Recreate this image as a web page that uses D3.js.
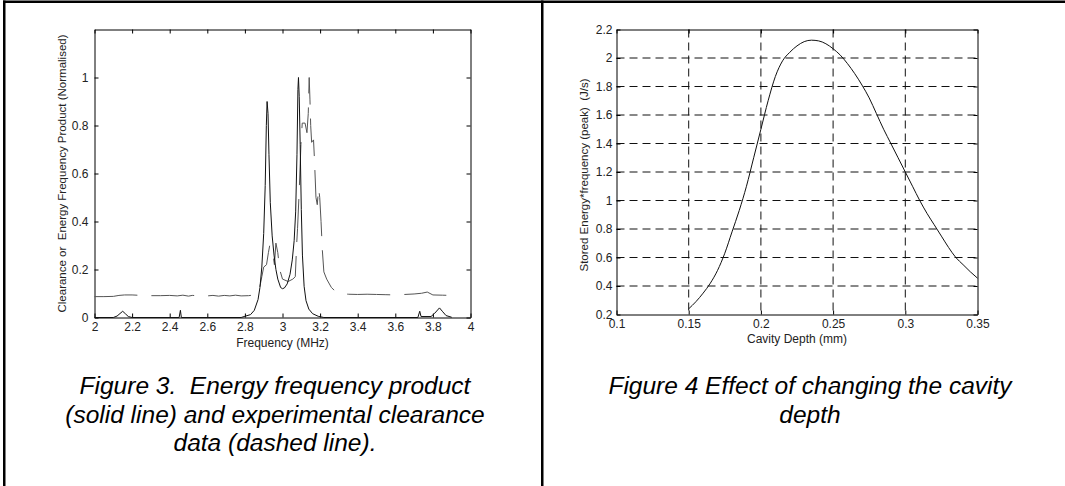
<!DOCTYPE html>
<html>
<head>
<meta charset="utf-8">
<script src="https://cdn.jsdelivr.net/npm/d3@7"></script>
<style>
  body { margin: 0; background: #fff; }
  svg { display: block; font-family: "Liberation Sans", Arial, sans-serif; }
  .tick text { font-family: "Liberation Sans", Arial, sans-serif; font-size: 12px; fill: #222; }
  .caption { font-size: 24.5px; font-style: italic; fill: #000; white-space: pre; }
</style>
</head>
<body>
<svg id="page" width="1065" height="486"></svg>
<script>
(function() {

  // Figure 3 - energy frequency product (solid)
  var energyFreq = [2.00, 2.10, 2.12, 2.15, 2.165, 2.18, 2.20, 2.45, 2.457, 2.462, 2.78, 2.80, 2.83, 2.85, 2.87,
    2.88, 2.89, 2.90, 2.908, 2.914, 2.918, 2.923, 2.928, 2.935, 2.945, 2.955, 2.965, 2.975, 2.99, 3.00,
    3.01, 3.025, 3.04, 3.052, 3.062, 3.07, 3.077, 3.082, 3.085, 3.089, 3.094, 3.10, 3.106, 3.115, 3.125,
    3.14, 3.16, 3.19, 3.22, 3.72, 3.73, 3.737, 3.79, 3.81, 3.835, 3.85, 3.87, 3.90]
  var energyVal = [0, 0, 0.006, 0.026, 0.015, 0.004, 0, 0, 0.03, 0, 0, 0.005, 0.012, 0.03, 0.075,
    0.125, 0.21, 0.35, 0.55, 0.8, 0.9, 0.85, 0.68, 0.48, 0.34, 0.26, 0.2, 0.16, 0.125, 0.12,
    0.123, 0.14, 0.18, 0.24, 0.32, 0.44, 0.68, 0.95, 1.0, 0.92, 0.72, 0.45, 0.26, 0.13, 0.07,
    0.035, 0.016, 0.005, 0, 0, 0.026, 0.004, 0.004, 0.018, 0.04, 0.026, 0.008, 0.001]

  // Figure 3 - experimental clearance (dashed)
  var clearFreq = [2.00, 2.05, 2.10, 2.13, 2.16, 2.20, 2.25, 2.30, 2.35, 2.40, 2.44, 2.47, 2.50, 2.52, 2.55,
    2.60, 2.63, 2.66, 2.69, 2.72, 2.75, 2.78, 2.82, 2.86, 2.88, 2.89, 2.90, 2.915, 2.925, 2.932,
    2.94, 2.95, 2.957, 2.965, 2.975, 2.985, 3.00, 3.03, 3.055, 3.068, 3.075, 3.08, 3.09, 3.098, 3.105,
    3.12, 3.13, 3.137, 3.142, 3.146, 3.15, 3.155, 3.165, 3.17, 3.178, 3.185, 3.192, 3.198, 3.205, 3.212,
    3.22, 3.235, 3.26, 3.28, 3.31, 3.35, 3.40, 3.45, 3.50, 3.55, 3.60, 3.65, 3.70, 3.74, 3.77,
    3.80, 3.85, 3.90, 3.94]
  var clearVal = [0.087, 0.087, 0.088, 0.092, 0.094, 0.094, 0.092, 0.091, 0.091, 0.092, 0.090, 0.093, 0.089, 0.092, 0.091,
    0.090, 0.092, 0.089, 0.092, 0.090, 0.093, 0.090, 0.091, 0.095, 0.13, 0.17, 0.21, 0.22, 0.27, 0.30,
    0.28, 0.26, 0.22, 0.31, 0.27, 0.2, 0.16, 0.15, 0.16, 0.17, 0.30, 0.37, 0.55, 0.72, 0.81,
    0.81, 0.77, 0.85, 1.0, 0.91, 0.80, 0.73, 0.74, 0.66, 0.50, 0.47, 0.54, 0.50, 0.40, 0.28,
    0.19, 0.16, 0.125, 0.11, 0.10, 0.097, 0.096, 0.097, 0.096, 0.095, 0.094, 0.096, 0.098, 0.101, 0.106,
    0.094, 0.093, 0.092, 0.092]

  var freqTicks = [2, 2.2, 2.4, 2.6, 2.8, 3, 3.2, 3.4, 3.6, 3.8, 4]
  var normTicks = [0, 0.2, 0.4, 0.6, 0.8, 1]

  // Figure 4 - stored energy * frequency vs cavity depth
  var depth = [0.15, 0.155, 0.16, 0.165, 0.17, 0.175, 0.18, 0.185, 0.19, 0.195, 0.2, 0.205, 0.21, 0.215,
    0.22, 0.225, 0.23, 0.235, 0.24, 0.245, 0.25, 0.255, 0.26, 0.265, 0.27, 0.275, 0.28, 0.285,
    0.29, 0.295, 0.3, 0.305, 0.31, 0.315, 0.32, 0.325, 0.33, 0.335, 0.34, 0.345, 0.35]
  var storedEnergy = [0.24, 0.29, 0.35, 0.42, 0.51, 0.63, 0.78, 0.93, 1.1, 1.3, 1.5, 1.7, 1.87, 1.98,
    2.04, 2.085, 2.115, 2.125, 2.12, 2.1, 2.065, 2.02, 1.96, 1.89, 1.81, 1.72, 1.61, 1.5,
    1.4, 1.3, 1.2, 1.1, 1.0, 0.91, 0.83, 0.75, 0.67, 0.6, 0.55, 0.5, 0.455]

  var depthTicks = [0.1, 0.15, 0.2, 0.25, 0.3, 0.35]
  var energyTicks = [0.2, 0.4, 0.6, 0.8, 1, 1.2, 1.4, 1.6, 1.8, 2, 2.2]

  var svg = d3.select("#page")

  // table borders
  svg.append("rect").attr("x", 3).attr("y", 0.5).attr("width", 1062).attr("height", 2.5).attr("fill", "#000")
  svg.append("rect").attr("x", 3).attr("y", 0.5).attr("width", 2.5).attr("height", 486).attr("fill", "#000")
  svg.append("rect").attr("x", 541).attr("y", 0.5).attr("width", 2.5).attr("height", 486).attr("fill", "#000")

  var fmt = function(d) { return String(+d.toFixed(2)) }

  // ---------- Figure 3 ----------
  var w1 = 376, h1 = 288
  var chart1 = svg.append("g").attr("transform", "translate(94.5,29.5)")

  var x1 = d3.scaleLinear().domain([2, 4]).range([0, w1])
  var y1 = d3.scaleLinear().domain([0, 1.2]).range([h1, 0])

  chart1.append("g")
    .attr("transform", "translate(0," + h1 + ")")
    .call(d3.axisBottom(x1).tickValues(freqTicks).tickFormat(fmt).tickSizeInner(-4).tickSizeOuter(0).tickPadding(5))
  chart1.append("g")
    .call(d3.axisTop(x1).tickValues(freqTicks).tickFormat("").tickSizeInner(-4).tickSizeOuter(0))
  chart1.append("g")
    .call(d3.axisLeft(y1).tickValues(normTicks).tickFormat(fmt).tickSizeInner(-4).tickSizeOuter(0).tickPadding(6))
  chart1.append("g")
    .attr("transform", "translate(" + w1 + ",0)")
    .call(d3.axisRight(y1).tickValues(normTicks).tickFormat("").tickSizeInner(-4).tickSizeOuter(0))

  var energyLine = d3.line()
    .x(function(d, i) { return x1(energyFreq[i]) })
    .y(function(d) { return y1(d) })
  var clearLine = d3.line()
    .x(function(d, i) { return x1(clearFreq[i]) })
    .y(function(d) { return y1(d) })

  chart1.append("path")
    .datum(clearVal)
    .attr("d", clearLine)
    .attr("fill", "none")
    .attr("stroke", "#555")
    .attr("stroke-width", 1)
    .attr("stroke-dasharray", "43,14")

  chart1.append("path")
    .datum(energyVal)
    .attr("d", energyLine)
    .attr("fill", "none")
    .attr("stroke", "#111")
    .attr("stroke-width", 1)

  chart1.append("text")
    .attr("x", w1 / 2).attr("y", h1 + 29)
    .attr("text-anchor", "middle")
    .attr("font-size", 12).attr("fill", "#222")
    .text("Frequency (MHz)")
  chart1.append("text")
    .attr("transform", "translate(-29," + (h1 / 2) + ") rotate(-90)")
    .attr("text-anchor", "middle")
    .attr("font-size", 11.5).attr("fill", "#222")
    .style("white-space", "pre")
    .text("Clearance or  Energy Frequency Product (Normalised)")

  // ---------- Figure 4 ----------
  var w2 = 361, h2 = 285
  var chart2 = svg.append("g").attr("transform", "translate(616.5,29.5)")

  var x2 = d3.scaleLinear().domain([0.1, 0.35]).range([0, w2])
  var y2 = d3.scaleLinear().domain([0.2, 2.2]).range([h2, 0])

  // dashed grid
  chart2.selectAll(".vgrid")
    .data(depthTicks.slice(1, -1))
    .enter()
    .append("line")
    .attr("class", "vgrid")
    .attr("x1", function(d) { return x2(d) }).attr("x2", function(d) { return x2(d) })
    .attr("y1", 0).attr("y2", h2)
    .attr("stroke", "#111").attr("stroke-dasharray", "8,5")
  chart2.selectAll(".hgrid")
    .data(energyTicks.slice(1, -1))
    .enter()
    .append("line")
    .attr("class", "hgrid")
    .attr("x1", 0).attr("x2", w2)
    .attr("y1", function(d) { return y2(d) }).attr("y2", function(d) { return y2(d) })
    .attr("stroke", "#111").attr("stroke-dasharray", "8,5")

  chart2.append("g")
    .attr("transform", "translate(0," + h2 + ")")
    .call(d3.axisBottom(x2).tickValues(depthTicks).tickFormat(fmt).tickSizeInner(-4).tickSizeOuter(0).tickPadding(5))
  chart2.append("g")
    .call(d3.axisTop(x2).tickValues(depthTicks).tickFormat("").tickSizeInner(-4).tickSizeOuter(0))
  chart2.append("g")
    .call(d3.axisLeft(y2).tickValues(energyTicks).tickFormat(fmt).tickSizeInner(-4).tickSizeOuter(0).tickPadding(4))
  chart2.append("g")
    .attr("transform", "translate(" + w2 + ",0)")
    .call(d3.axisRight(y2).tickValues(energyTicks).tickFormat("").tickSizeInner(-4).tickSizeOuter(0))

  var depthLine = d3.line()
    .x(function(d, i) { return x2(depth[i]) })
    .y(function(d) { return y2(d) })
    .curve(d3.curveMonotoneX)

  chart2.append("path")
    .datum(storedEnergy)
    .attr("d", depthLine)
    .attr("fill", "none")
    .attr("stroke", "#111")
    .attr("stroke-width", 1)

  chart2.append("text")
    .attr("x", w2 / 2).attr("y", h2 + 28)
    .attr("text-anchor", "middle")
    .attr("font-size", 12).attr("fill", "#222")
    .text("Cavity Depth (mm)")
  chart2.append("text")
    .attr("transform", "translate(-28.5," + (h2 / 2 + 3) + ") rotate(-90)")
    .attr("text-anchor", "middle")
    .attr("font-size", 11.5).attr("fill", "#222")
    .style("white-space", "pre")
    .text("Stored Energy*frequency (peak)  (J/s)")

  // ---------- captions ----------
  var cap1 = ["Figure 3.  Energy frequency product", "(solid line) and experimental clearance", "data (dashed line)."]
  var cap2 = ["Figure 4 Effect of changing the cavity", "depth"]

  svg.selectAll(".cap1")
    .data(cap1)
    .enter()
    .append("text")
    .attr("class", "caption")
    .attr("x", 275)
    .attr("y", function(d, i) { return 394 + i * 28.5 })
    .attr("text-anchor", "middle")
    .text(function(d) { return d })

  svg.selectAll(".cap2")
    .data(cap2)
    .enter()
    .append("text")
    .attr("class", "caption")
    .attr("x", 810)
    .attr("y", function(d, i) { return 394 + i * 28.5 })
    .attr("text-anchor", "middle")
    .text(function(d) { return d })

})()
</script>
</body>
</html>
